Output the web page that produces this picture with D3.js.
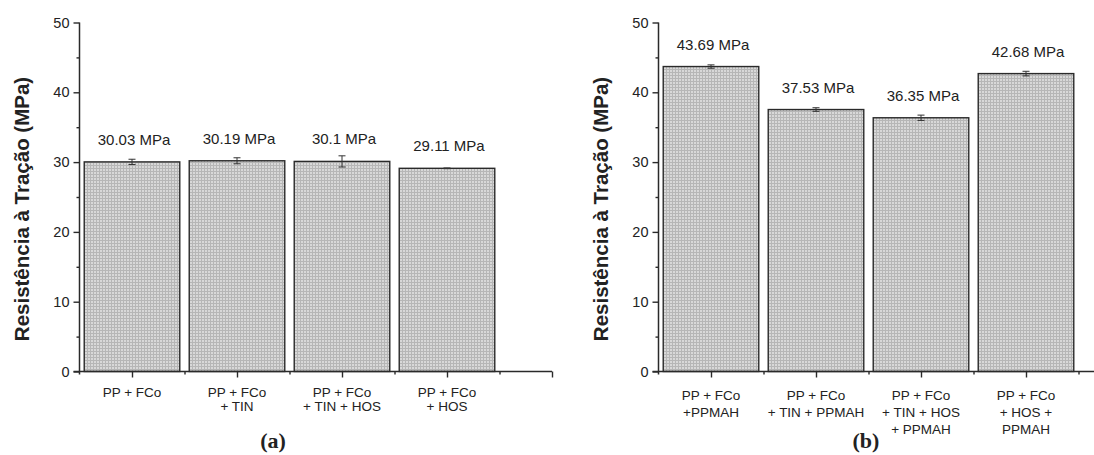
<!DOCTYPE html>
<html>
<head>
<meta charset="utf-8">
<script src="https://cdn.jsdelivr.net/npm/d3@7"></script>
<style>
  html, body { margin: 0; padding: 0; background: #fff; }
  svg { display: block; }
  text { font-family: "Liberation Sans", Arial, sans-serif; fill: #222; }
</style>
</head>
<body>
<svg id="chart" width="1094" height="455"></svg>
<script>
// ---- data ----
const yTicks = [0, 10, 20, 30, 40, 50];
const yTitle = "Resistência à Tração (MPa)";

const catsA = [["PP + FCo"], ["PP + FCo", "+ TIN"], ["PP + FCo", "+ TIN + HOS"], ["PP + FCo", "+ HOS"]];
const valsA = [30.03, 30.19, 30.1, 29.11];
const errsA = [0.38, 0.43, 0.8, 0.05];
const labelsA = ["30.03 MPa", "30.19 MPa", "30.1 MPa", "29.11 MPa"];
const panelA = "(a)";

const catsB = [["PP + FCo", "+PPMAH"], ["PP + FCo", "+ TIN + PPMAH"], ["PP + FCo", "+ TIN + HOS", "+ PPMAH"], ["PP + FCo", "+ HOS +", "PPMAH"]];
const valsB = [43.69, 37.53, 36.35, 42.68];
const errsB = [0.24, 0.26, 0.38, 0.33];
const labelsB = ["43.69 MPa", "37.53 MPa", "36.35 MPa", "42.68 MPa"];
const panelB = "(b)";

// ---- drawing ----
const svg = d3.select("#chart");
const defs = svg.append("defs");
const pat = defs.append("pattern").attr("id", "grid")
  .attr("patternUnits", "userSpaceOnUse").attr("width", 3).attr("height", 3);
pat.append("rect").attr("width", 3).attr("height", 3).attr("fill", "#d8d8d8");
pat.append("path").attr("d", "M0 0.5H3M0.5 0V3").attr("stroke", "#b6b6b6").attr("stroke-width", 1);

const y = d3.scaleLinear().domain([0, 50]).range([371.5, 22.5]);

function panel(cfg) {
  const { x0, x1, cats, vals, errs, labels, titleX, panelLabel, panelX, lineGap, firstBase } = cfg;
  const g = svg.append("g");
  const x = d3.scaleLinear().domain([0.5, 5]).range([x0, x1]);
  const idx = d3.range(cats.length);
  const bw = (x(1) - x(0)) * 0.91;

  // bars
  g.selectAll("rect.bar").data(idx).join("rect")
    .attr("class", "bar")
    .attr("x", i => x(i + 1) - bw / 2)
    .attr("y", i => y(vals[i]))
    .attr("width", bw)
    .attr("height", i => y(0) - y(vals[i]))
    .attr("fill", "url(#grid)")
    .attr("stroke", "#2a2a2a")
    .attr("stroke-width", 1.4);

  // error bars
  const eb = g.selectAll("g.err").data(idx).join("g").attr("class", "err")
    .attr("stroke", "#333").attr("stroke-width", 1);
  eb.append("line")
    .attr("x1", i => x(i + 1)).attr("x2", i => x(i + 1))
    .attr("y1", i => y(vals[i] - errs[i])).attr("y2", i => y(vals[i] + errs[i]));
  eb.append("line")
    .attr("x1", i => x(i + 1) - 3.5).attr("x2", i => x(i + 1) + 3.5)
    .attr("y1", i => y(vals[i] + errs[i])).attr("y2", i => y(vals[i] + errs[i]));
  eb.append("line")
    .attr("x1", i => x(i + 1) - 3.5).attr("x2", i => x(i + 1) + 3.5)
    .attr("y1", i => y(vals[i] - errs[i])).attr("y2", i => y(vals[i] - errs[i]));

  // value labels
  g.selectAll("text.val").data(idx).join("text")
    .attr("class", "val")
    .attr("x", i => x(i + 1) + 2)
    .attr("y", i => y(vals[i]) - 17)
    .attr("text-anchor", "middle")
    .attr("font-size", "15px")
    .text(i => labels[i]);

  // y axis
  const yAxis = d3.axisLeft(y).tickValues(yTicks).tickSize(6).tickPadding(4);
  const ya = g.append("g").attr("transform", `translate(${x0},0)`).call(yAxis);
  ya.select(".domain").remove();
  ya.selectAll(".tick line").attr("stroke", "#2a2a2a").attr("stroke-width", 1.4);
  ya.selectAll(".tick text").attr("font-size", "14.5px").attr("fill", "#222")
    .attr("font-family", "Liberation Sans, Arial, sans-serif");
  const yMinor = d3.axisLeft(y).tickValues([5, 15, 25, 35, 45]).tickSize(3).tickFormat("");
  const ym = g.append("g").attr("transform", `translate(${x0},0)`).call(yMinor);
  ym.select(".domain").remove();
  ym.selectAll(".tick line").attr("stroke", "#2a2a2a").attr("stroke-width", 1.4);
  g.append("line").attr("x1", x0).attr("x2", x0).attr("y1", y(50)).attr("y2", y(0) + 3)
    .attr("stroke", "#2a2a2a").attr("stroke-width", 1.5);

  // x axis
  const xMajor = d3.axisBottom(x).tickValues([1, 2, 3, 4, 5]).tickSize(6).tickFormat("");
  const xa = g.append("g").attr("transform", `translate(0,${y(0)})`).call(xMajor);
  xa.select(".domain").remove();
  xa.selectAll(".tick line").attr("stroke", "#2a2a2a").attr("stroke-width", 1.4);
  const xMinor = d3.axisBottom(x).tickValues([1.5, 2.5, 3.5, 4.5]).tickSize(3).tickFormat("");
  const xm = g.append("g").attr("transform", `translate(0,${y(0)})`).call(xMinor);
  xm.select(".domain").remove();
  xm.selectAll(".tick line").attr("stroke", "#2a2a2a").attr("stroke-width", 1.4);
  g.append("line").attr("x1", x0 - 6).attr("x2", x1).attr("y1", y(0)).attr("y2", y(0))
    .attr("stroke", "#2a2a2a").attr("stroke-width", 1.5);

  // category labels
  const cl = g.selectAll("text.cat").data(idx).join("text")
    .attr("class", "cat")
    .attr("text-anchor", "middle")
    .attr("font-size", "13.5px");
  cl.each(function (i) {
    const t = d3.select(this);
    cats[i].forEach((line, k) => {
      t.append("tspan").attr("x", x(i + 1)).attr("y", firstBase + k * lineGap).text(line);
    });
  });

  // y title
  g.append("text")
    .attr("transform", `translate(${titleX},${(y(0) + y(50)) / 2 + 12}) rotate(-90)`)
    .attr("text-anchor", "middle")
    .attr("font-size", "20.5px")
    .attr("font-weight", "bold")
    .text(yTitle);

  // panel label
  g.append("text")
    .attr("x", panelX).attr("y", 448)
    .attr("text-anchor", "middle")
    .attr("font-family", "Liberation Serif, 'Times New Roman', serif")
    .attr("font-weight", "bold")
    .attr("font-size", "22px")
    .style("font-family", "'Liberation Serif', 'Times New Roman', serif")
    .text(panelLabel);
}

panel({ x0: 79.5, x1: 552, cats: catsA, vals: valsA, errs: errsA, labels: labelsA,
        titleX: 29, panelLabel: panelA, panelX: 273, lineGap: 14, firstBase: 396.5 });
panel({ x0: 658.5, x1: 1131, cats: catsB, vals: valsB, errs: errsB, labels: labelsB,
        titleX: 607.5, panelLabel: panelB, panelX: 866, lineGap: 17, firstBase: 400 });
</script>
</body>
</html>
